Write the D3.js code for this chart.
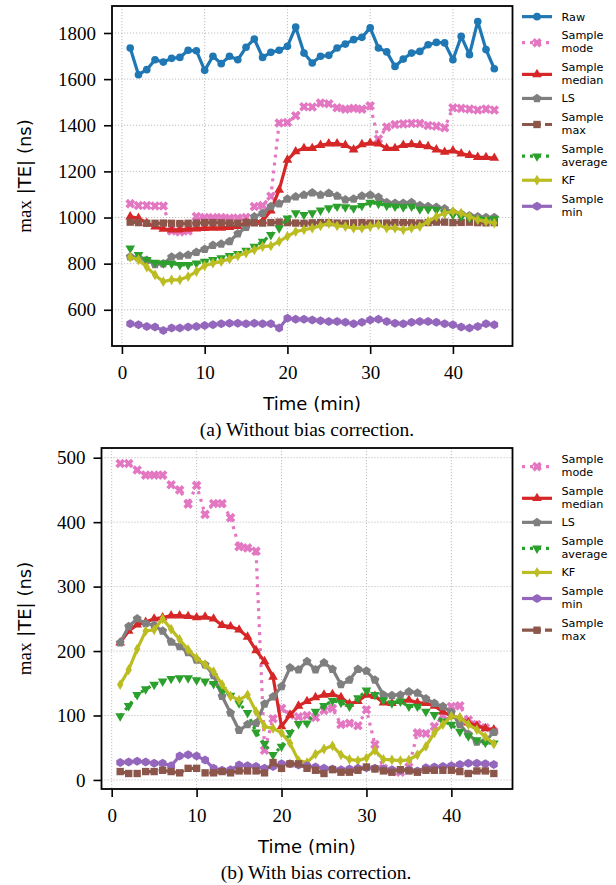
<!DOCTYPE html>
<html>
<head>
<meta charset="utf-8">
<script src="https://cdn.jsdelivr.net/npm/d3@7"></script>
<style>
  body { margin: 0; background: #fff; }
  svg text { fill: #000; }
</style>
</head>
<body>
<script>
// time axis, minutes
const time = d3.range(1, 46);

// (a) without bias correction, max |TE| in ns
const topRaw = [1735,1619,1641,1684,1674,1690,1694,1725,1723,1638,1699,1667,1699,1684,1738,1774,1694,1716,1725,1742,1826,1713,1670,1699,1703,1735,1752,1771,1781,1822,1735,1718,1655,1687,1713,1720,1749,1759,1757,1684,1785,1706,1850,1728,1645];
const topMode = [1060,1052,1052,1050,1050,942,938,942,1004,1000,1000,1000,998,998,1000,1048,1052,1092,1410,1412,1441,1480,1479,1496,1493,1476,1470,1473,1470,1484,1340,1392,1403,1406,1408,1408,1399,1396,1389,1476,1473,1470,1466,1470,1466];
const topMedian = [1004,997,976,960,950,947,947,950,952,954,955,955,958,962,977,980,985,1030,1120,1250,1286,1300,1300,1314,1320,1320,1314,1294,1317,1323,1320,1300,1300,1314,1317,1314,1308,1294,1284,1290,1277,1270,1262,1261,1258];
const topLS = [830,825,815,797,800,829,833,838,850,863,880,885,896,930,958,1004,1019,1048,1060,1080,1090,1098,1108,1098,1105,1094,1077,1080,1094,1098,1088,1065,1062,1062,1065,1052,1048,1045,1038,1023,1016,1008,1004,1000,1000];
const topMax = [980,978,975,975,976,975,974,975,976,978,978,977,976,975,978,977,976,978,980,978,976,975,977,978,978,976,975,977,978,976,975,976,978,978,977,976,978,980,980,978,979,980,978,977,978];
const topAverage = [867,838,817,805,802,800,795,795,802,809,817,824,834,843,857,874,896,925,954,997,1019,1012,1019,1031,1041,1048,1045,1041,1051,1065,1060,1051,1048,1045,1048,1036,1036,1033,1019,1012,1004,997,993,990,993];
const topKF = [828,817,785,751,722,730,730,744,766,791,802,809,820,834,846,860,874,877,896,918,939,947,954,964,975,964,961,954,954,961,968,954,954,947,954,961,983,1004,1019,1026,1019,1004,990,983,976];
const topMin = [539,535,528,525,510,521,521,525,528,532,535,539,542,542,539,542,539,539,521,563,559,559,556,553,549,549,546,539,546,556,559,549,542,539,546,549,549,546,539,535,525,521,528,539,535];

// (b) with bias correction
const botMode = [491,491,481,473,473,473,458,450,428,457,412,429,429,407,362,360,355,46,95,111,101,98,100,97,108,111,86,88,84,109,55,18,13,12,20,73,72,83,100,114,115,93,86,81,75];
const botMedian = [213,231,241,245,250,252,255,255,254,252,253,250,240,238,233,222,201,184,160,83,101,115,122,128,132,133,128,118,122,132,130,120,119,122,124,120,119,115,106,99,96,89,84,80,78];
const botLS = [213,238,250,243,240,231,214,207,198,186,179,162,130,104,77,86,88,118,129,145,174,171,184,171,182,172,148,155,172,169,155,132,131,132,137,135,126,119,114,105,86,71,59,60,74];
const botAverage = [99,115,132,141,148,153,157,158,158,155,153,149,140,131,119,104,74,56,39,52,73,87,88,106,115,123,120,114,127,139,132,124,119,122,114,114,106,101,91,86,75,68,62,58,57];
const botKF = [148,171,203,231,233,250,234,218,202,189,179,168,148,130,124,132,106,83,80,73,57,30,27,40,48,53,39,32,30,34,46,32,31,30,31,39,52,73,86,99,97,86,78,67,56];
const botMin = [27,28,29,28,26,26,22,37,39,37,31,18,15,16,23,22,21,18,21,25,25,23,22,20,18,17,16,17,18,19,18,17,16,15,16,14,19,20,21,22,24,26,26,25,24];
const botMax = [13,10,10,13,13,15,13,11,18,18,11,11,13,11,14,14,14,11,27,18,25,25,18,15,10,16,12,12,15,20,17,14,12,16,14,12,15,15,15,15,13,10,14,14,10];

const xTicks = [0, 10, 20, 30, 40];
const topYTicks = [600, 800, 1000, 1200, 1400, 1600, 1800];
const botYTicks = [0, 100, 200, 300, 400, 500];

const W = 616, H = 885;
const serif = "'Liberation Serif', 'DejaVu Serif', serif";
const sans = "'DejaVu Sans', sans-serif";

const svg = d3.select("body").append("svg")
  .attr("width", W).attr("height", H)
  .attr("viewBox", `0 0 ${W} ${H}`);

// ---- marker shapes
const rotate = (pts, a) => pts.map(([x, y]) => [x * Math.cos(a) - y * Math.sin(a), x * Math.sin(a) + y * Math.cos(a)]);
const toPath = (pts) => "M" + pts.map((p) => p.map((v) => v.toFixed(2)).join(",")).join("L") + "Z";
const polygon = (n, r, rot = -Math.PI / 2) =>
  toPath(d3.range(n).map((i) => {
    const a = rot + (i * 2 * Math.PI) / n;
    return [r * Math.cos(a), r * Math.sin(a)];
  }));
const xMarker = (a, w) => {
  const plus = [[-w,-a],[w,-a],[w,-w],[a,-w],[a,w],[w,w],[w,a],[-w,a],[-w,w],[-a,w],[-a,-w],[-w,-w]];
  return toPath(rotate(plus, Math.PI / 4));
};

const markers = {
  circle: d3.symbol(d3.symbolCircle, 46)(),
  x: xMarker(5, 1.8),
  triUp: polygon(3, 5.6),
  triDown: polygon(3, 5.6, Math.PI / 2),
  pentagon: polygon(5, 4.7),
  square: polygon(4, 5.2, Math.PI / 4),
  thinDiamond: "M0,-5.4L3.2,0L0,5.4L-3.2,0Z",
  hexagon: polygon(6, 4.5),
};

const styles = {
  "Raw": { color: "#1f77b4", dash: null, marker: "circle" },
  "Sample mode": { color: "#e377c2", dash: "3,5", marker: "x" },
  "Sample median": { color: "#d62728", dash: null, marker: "triUp" },
  "LS": { color: "#7f7f7f", dash: null, marker: "pentagon" },
  "Sample max": { color: "#8c564b", dash: "12,4,3,4", marker: "square" },
  "Sample average": { color: "#2ca02c", dash: "3,5", marker: "triDown" },
  "KF": { color: "#bcbd22", dash: null, marker: "thinDiamond" },
  "Sample min": { color: "#9467bd", dash: null, marker: "hexagon" },
};

function drawPanel(p) {
  const { box, series, yTicks } = p;
  const allV = series.flatMap((s) => s.values);
  const vMin = d3.min(allV), vMax = d3.max(allV);
  const tPad = (d3.max(time) - d3.min(time)) * 0.05;
  const vPad = (vMax - vMin) * 0.05;

  const x = d3.scaleLinear().domain([d3.min(time) - tPad, d3.max(time) + tPad]).range([box.left, box.right]);
  const y = d3.scaleLinear().domain([vMin - vPad, vMax + vPad]).range([box.bottom, box.top]);

  const g = svg.append("g");

  // grid
  g.append("g").selectAll("line").data(xTicks).join("line")
    .attr("x1", (d) => x(d)).attr("x2", (d) => x(d))
    .attr("y1", box.top).attr("y2", box.bottom)
    .attr("stroke", "#b0b0b0").attr("stroke-width", 0.8).attr("stroke-dasharray", "1.2,1.8");
  g.append("g").selectAll("line").data(yTicks).join("line")
    .attr("x1", box.left).attr("x2", box.right)
    .attr("y1", (d) => y(d)).attr("y2", (d) => y(d))
    .attr("stroke", "#b0b0b0").attr("stroke-width", 0.8).attr("stroke-dasharray", "1.2,1.8");

  const line = d3.line().x((d) => x(d[0])).y((d) => y(d[1]));

  series.forEach((s) => {
    const st = styles[s.name];
    const pts = time.map((t, i) => [t, s.values[i]]);
    g.append("path")
      .attr("d", line(pts))
      .attr("fill", "none")
      .attr("stroke", st.color)
      .attr("stroke-width", 3.2)
      .attr("stroke-linejoin", "round")
      .attr("stroke-dasharray", st.dash);
    g.append("g").selectAll("path").data(pts).join("path")
      .attr("d", markers[st.marker])
      .attr("transform", (d) => `translate(${x(d[0])},${y(d[1])})`)
      .attr("fill", st.color);
  });

  // axes
  const xAxis = g.append("g")
    .attr("transform", `translate(0,${box.bottom})`)
    .call(d3.axisBottom(x).tickValues(xTicks).tickFormat(d3.format("d"))
      .tickSize(8).tickPadding(12).tickSizeOuter(0));
  const yAxis = g.append("g")
    .attr("transform", `translate(${box.left},0)`)
    .call(d3.axisLeft(y).tickValues(yTicks).tickFormat(d3.format("d"))
      .tickSize(8).tickPadding(8).tickSizeOuter(0));
  [xAxis, yAxis].forEach((a) => {
    a.attr("font-family", null).attr("font-size", null);
    a.select(".domain").remove();
    a.selectAll(".tick line").attr("stroke", "#000").attr("stroke-width", 1.6);
    a.selectAll(".tick text")
      .style("font-family", serif).style("font-size", "19px").attr("fill", "#000");
  });

  // spines
  g.append("rect")
    .attr("x", box.left).attr("y", box.top)
    .attr("width", box.right - box.left).attr("height", box.bottom - box.top)
    .attr("fill", "none").attr("stroke", "#000").attr("stroke-width", 1.8);

  // labels
  g.append("text")
    .attr("x", (box.left + box.right) / 2).attr("y", box.bottom + 64)
    .attr("text-anchor", "middle").attr("font-family", sans).attr("font-size", 18)
    .text("Time (min)");

  const yl = g.append("text")
    .attr("transform", `translate(31,${(box.top + box.bottom) / 2}) rotate(-90)`)
    .attr("text-anchor", "middle").attr("font-size", 18);
  yl.append("tspan").attr("font-family", serif).attr("font-size", 19).text("max");
  yl.append("tspan").attr("font-family", sans).text(" |TE| (ns)");

  g.append("text")
    .attr("x", p.captionX).attr("y", box.bottom + 90)
    .attr("text-anchor", "middle").attr("font-family", serif).attr("font-size", 19.5)
    .text(p.caption);

  // legend
  const lineH = 13.3, gap = 5.1;
  let cy = p.legendTop;
  series.forEach((s) => {
    const st = styles[s.name];
    const words = s.name.split(" ");
    const h = words.length * lineH;
    const lg = g.append("g");
    const hy = cy + h / 2 + (words.length > 1 ? 1 : 0);
    lg.append("line")
      .attr("x1", 522).attr("x2", 552).attr("y1", hy).attr("y2", hy)
      .attr("stroke", st.color).attr("stroke-width", 3.2)
      .attr("stroke-dasharray", st.dash);
    lg.append("path").attr("d", markers[st.marker])
      .attr("transform", `translate(537,${hy})`).attr("fill", st.color);
    const tx = lg.append("text").attr("font-family", sans).attr("font-size", 11.2);
    words.forEach((w, i) => {
      tx.append("tspan").attr("x", 561.5).attr("y", cy + lineH * i + lineH / 2 + 4).text(w);
    });
    cy += h + gap;
  });
}

drawPanel({
  box: { left: 112, right: 512.5, top: 6, bottom: 346 },
  yTicks: topYTicks,
  caption: "(a) Without bias correction.",
  captionX: 307,
  legendTop: 10,
  series: [
    { name: "Raw", values: topRaw },
    { name: "Sample mode", values: topMode },
    { name: "Sample median", values: topMedian },
    { name: "LS", values: topLS },
    { name: "Sample max", values: topMax },
    { name: "Sample average", values: topAverage },
    { name: "KF", values: topKF },
    { name: "Sample min", values: topMin },
  ],
});

drawPanel({
  box: { left: 101.5, right: 512.5, top: 448, bottom: 789 },
  yTicks: botYTicks,
  caption: "(b) With bias correction.",
  captionX: 316,
  legendTop: 452.3,
  series: [
    { name: "Sample mode", values: botMode },
    { name: "Sample median", values: botMedian },
    { name: "LS", values: botLS },
    { name: "Sample average", values: botAverage },
    { name: "KF", values: botKF },
    { name: "Sample min", values: botMin },
    { name: "Sample max", values: botMax },
  ],
});
</script>
</body>
</html>
